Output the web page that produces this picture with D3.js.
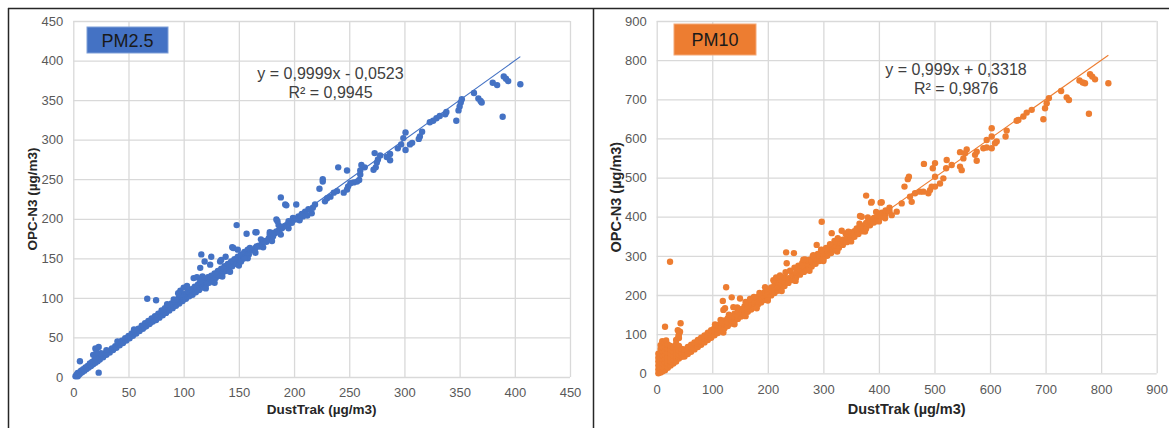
<!DOCTYPE html>
<html>
<head>
<meta charset="utf-8">
<script src="https://cdn.jsdelivr.net/npm/d3@7"></script>
<style>
  html, body { margin: 0; padding: 0; background: #fff; }
  svg { display: block; font-family: Arial, "Liberation Sans", sans-serif; }
</style>
</head>
<body>
<svg id="chart" width="1169" height="428"></svg>
<script>
// ---------- PM2.5 : DustTrak vs OPC-N3 (µg/m3) ----------
const pm25Ticks = [0, 50, 100, 150, 200, 250, 300, 350, 400, 450];
const pm25Fit = { slope: 0.9999, intercept: -0.0523, r2: 0.9945 };

// dense band of paired readings
const pm25Band = [
  [2,1],[3,3],[4,1],[4,5],[5,3],[6,6],[6,4],[7,8],[8,6],[9,10],[10,8],[11,12],[12,10],[13,14],[14,12],
  [15,17],[16,14],[17,19],[18,16],[19,21],[20,18],[21,23],[22,20],[23,25],[24,22],[26,27],[27,25],
  [29,30],[30,28],[32,33],[33,31],[35,36],[36,34],[38,39],[39,37],[41,43],[42,40],[44,46],[45,43],
  [47,49],[48,46],[50,52],[51,49],[53,55],[54,52],[56,58],[57,55],[59,61],[60,58],[62,65],[63,61],
  [65,68],[66,64],[68,71],[69,67],[71,74],[72,70],[74,77],[75,72],[77,80],[78,75],[80,84],[81,78],
  [83,87],[84,81],[86,90],[87,84],[89,93],[90,87],[92,96],[93,90],[95,99],[96,93],[98,103],[99,96],
  [101,105],[102,99],[104,108],[105,102],[107,111],[108,104],[110,114],[111,107],[113,117],[114,110],
  [116,119],[117,113],[119,123],[120,116],[122,126],[123,119],[125,128],[126,122],[128,131],[129,125],
  [131,134],[132,128],[134,137],[135,131],[137,140],[138,134],[140,143],[141,137],[143,146],[144,140],
  [146,149],[147,143],[149,152],[150,146],[152,155],[153,149],[155,158],[156,152],[158,161],[159,155],
  [162,160],[165,163],[168,166],[171,169],[174,172],[177,175],[180,178],[183,182],[186,185],[189,188],
  [192,191],[195,194],[198,197],[201,200],[204,203],[207,206],[210,209],[213,212],
  [64,63],[70,69],[76,75],[82,81],[88,88],[94,95],[100,101],[106,106],[112,112],[118,118],[124,124],
  [130,130],[136,137],[142,142],[148,148],[154,155],
  [20,24],[25,30],[30,34],[40,45],[55,60],[85,92],[91,98],[97,104],
  [120,112],[128,119],[135,127],[142,133],[150,141],[158,150],[165,157],[172,164],[180,172],
  [188,180],[195,188],[205,198],[212,204],[170,174],[178,183],[186,192]
];

// readings scattered away from the band and the sparse upper range
const pm25Spread = [
  [6,20],[20,36],[23,38],[18,28],[21,31],[23,5.5],
  [67,99],[75,97],[97,109],[100,113],[103,115],[95,106],[109,125],[112,126],[117,127],[115,121],
  [115,138],[124,142],[119,146],[116,155],[125,152],[133,146],[134,148],[138,152],[144,164],[145,163],
  [149,161],[145,146],[152,146],[155,150],[148,192],[157,181],[165,183],[169,165],[175,171],[181,178],
  [187,186],[193,192],[199,201],[184,199],[192,218],[202,218],[188,227],[166,165],[160,163],
  [211,205],[208,203],[205,201],[201,199],[198,195],[193,217],[195,197],[190,190],[185,197],[184,184],
  [181,182],[178,180],[172,171],[166,183],
  [239,235],[236,233],[233,228],[230,226],[228,222],[226,250],[226,247],[223,238],[219,218],[217,214],[216,207],
  [264,265],[261,268],[260,261],[260,256],[259,249],[257,247],[254,246],[251,245],[248,261],[249,241],
  [248,237],[245,233],[240,265],
  [287,282],[287,274],[284,278],[278,280],[276,275],[275,271],[273,283],[274,265],[272,262],
  [316,310],[314,304],[313,301],[307,296],[305,294],[301,287],[301,309],[299,302],[297,294],[294,289],
  [338,335],[337,332],[332,330],[329,327],[326,324],[323,322],
  [352,351],[351,347],[350,342],[349,337],[347,324],
  [367,352],[369,349],[370,347],[363,359],
  [380,372],[384,369],[390,380],[392,377],[394,374],[389,329],[405,370]
];

// ---------- PM10 : DustTrak vs OPC-N3 (µg/m3) ----------
const pm10Ticks = [0, 100, 200, 300, 400, 500, 600, 700, 800, 900];
const pm10Fit = { slope: 0.999, intercept: 0.3318, r2: 0.9876 };

// low-concentration cluster
const pm10Cluster = [
  [3,0],[3,10],[3,20],[3,30],[3,40],[3,50],
  [7,2],[7,12],[7,22],[7,32],[7,42],[7,52],[7,62],[7,72],
  [11,5],[11,15],[11,25],[11,35],[11,45],[11,55],[11,65],[11,75],[10,82],
  [15,8],[15,18],[15,28],[15,38],[15,48],[15,58],[15,68],[15,78],[17,84],
  [20,14],[20,24],[20,34],[20,44],[20,54],[20,64],[20,74],
  [25,20],[25,30],[25,40],[25,50],[25,60],[25,70],
  [30,25],[30,35],[30,45],[30,55],[30,65],
  [35,30],[35,40],[35,50],[35,60],[35,75],[35,85],
  [40,38],[40,48],[40,58],[40,70],[40,90],[40,100],[38,110],
  [45,42],[45,52],[45,62],[50,48],[50,58]
];

// dense band of paired readings
const pm10Band = [
  [50,43],[50,52],[50,61],[56,49],[56,58],[56,67],[62,55],[62,64],[62,73],[68,61],[68,70],[68,79],
  [74,67],[74,76],[74,85],[80,73],[80,82],[80,91],[86,79],[86,88],[86,97],[92,85],[92,94],[92,104],
  [98,91],[98,100],[98,110],[104,97],[104,106],[104,116],[110,103],[110,112],[110,123],
  [116,109],[116,118],[116,129],[122,115],[122,124],[122,135],[128,121],[128,130],[128,141],
  [134,127],[134,136],[134,146],[140,133],[140,142],[140,152],[146,139],[146,148],[146,158],
  [152,145],[152,154],[152,164],[158,151],[158,160],[158,171],[164,157],[164,166],[164,177],
  [170,163],[170,172],[170,183],[176,169],[176,178],[176,189],[182,175],[182,184],[182,195],
  [188,181],[188,190],[188,201],[194,187],[194,196],[194,207],[200,193],[200,202],[200,213],
  [206,199],[206,208],[206,219],[212,205],[212,214],[212,226],[218,211],[218,220],[218,232],
  [224,217],[224,226],[224,238],[230,223],[230,232],[230,245],
  [237,231],[237,243],[244,238],[244,252],[251,245],[251,258],[258,252],[258,264],[265,259],[265,272],
  [272,266],[272,279],[279,273],[279,285],[286,280],[286,293],[293,287],[293,300],[300,294],[300,306],
  [307,300],[307,313],[314,307],[314,321],[321,315],[321,327],[328,321],[328,335],[335,328],[335,341],
  [342,335],[342,349],[349,342],[349,356],[356,349],[356,363],[363,356],[363,370],[370,363],[370,377],
  [377,370],[377,384],[384,378],[384,390],[391,385],[391,397],[398,393],[398,404],[405,400],[405,410],
  [412,407],[412,416],[419,414],[419,423],
  [160,182],[175,195],[185,205],[210,238],[215,245],[240,262],[255,275],[262,282],[275,290],
  [290,305],[305,320],[320,338],[340,357],[350,360],[360,370],
  [105,125],[115,136],[130,150],[145,168],[168,190],[195,220],[222,250],[232,258],[248,270],
  [268,288],[282,302],[296,316],[312,330],[326,345],[345,362],[365,382],[380,398],[395,412],
  [120,104],[140,125],[160,146],[180,166],[200,186],[225,210],[250,236],[275,262],[300,287],
  [325,311],[350,337],[375,362],[400,388]
];

// readings scattered away from the band and the sparse upper range
const pm10Spread = [
  [24,285],[15,119],[43,128],[42,106],[39,94],
  [125,220],[135,194],[150,191],[119,185],[123,166],[138,169],[120,162],
  [233,309],[247,307],[267,291],[281,300],[288,328],[297,387],[315,358],[333,364],[297,315],[300,290],
  [234,281],[264,290],
  [366,402],[386,436],[403,436],[377,454],[369,400],[387,438],[405,437],
  [411,396],[423,404],[432,413],[441,434],[446,477],[452,496],[454,502],[456,451],[459,438],[465,460],
  [474,464],[480,464],[489,460],[492,468],[495,477],[501,477],[501,502],[510,485],[516,498],[497,524],
  [501,537],[521,524],[522,545],[531,532],[481,535],
  [546,528],[549,519],[546,565],[552,549],[555,562],[558,572],[573,558],[576,566],[576,543],
  [588,575],[594,577],[594,596],[603,575],[603,605],[603,626],[609,588],[612,592],[628,605],[630,620],
  [648,645],[651,647],[660,656],[666,666],[675,673],[696,649],
  [699,677],[702,690],[706,703],[728,721],[738,705],[742,698],
  [761,748],[767,743],[771,741],[778,663],[780,764],[784,758],[789,751],[813,741]
];

// ---------- drawing ----------
const svg = d3.select("#chart");

// panel frame
svg.append("line").attr("x1", 8).attr("x2", 1169).attr("y1", 8.5).attr("y2", 8.5)
  .attr("stroke", "#262626").attr("stroke-width", 1.5);
svg.append("line").attr("x1", 8.5).attr("x2", 8.5).attr("y1", 8).attr("y2", 428)
  .attr("stroke", "#262626").attr("stroke-width", 1.5);
svg.append("line").attr("x1", 593.5).attr("x2", 593.5).attr("y1", 8).attr("y2", 428)
  .attr("stroke", "#262626").attr("stroke-width", 1.5);

const commaNum = v => String(v).replace(".", ",");

function drawPanel(cfg) {
  const { box, ticks, points, fit, color } = cfg;
  const x = d3.scaleLinear().domain([ticks[0], ticks[ticks.length - 1]]).range([box.left, box.right]);
  const y = d3.scaleLinear().domain([ticks[0], ticks[ticks.length - 1]]).range([box.bottom, box.top]);
  const g = svg.append("g");

  // grid + tick labels
  const gx = g.append("g").attr("transform", `translate(0,${box.bottom})`)
    .call(d3.axisBottom(x).tickValues(ticks).tickSize(-(box.bottom - box.top)).tickPadding(11));
  const gy = g.append("g").attr("transform", `translate(${box.left},0)`)
    .call(d3.axisLeft(y).tickValues(ticks).tickSize(-(box.right - box.left)).tickPadding(10));
  [gx, gy].forEach(a => {
    a.select(".domain").remove();
    a.selectAll(".tick line").attr("stroke", "#d9d9d9").attr("stroke-width", 1.3);
    a.selectAll(".tick text").attr("fill", "#595959").style("font-size", "13px")
      .style("font-family", "Arial, 'Liberation Sans', sans-serif");
  });

  // axis titles
  g.append("text")
    .attr("x", (box.left + box.right) / 2).attr("y", 414)
    .attr("text-anchor", "middle").attr("fill", "#262626")
    .style("font-size", cfg.titleSize + "px").style("font-weight", "bold")
    .text("DustTrak (µg/m3)");
  g.append("text")
    .attr("transform", `translate(${cfg.yTitleX},${(box.top + box.bottom) / 2}) rotate(-90)`)
    .attr("text-anchor", "middle").attr("dominant-baseline", "central").attr("fill", "#262626")
    .style("font-size", cfg.titleSize + "px").style("font-weight", "bold")
    .text("OPC-N3 (µg/m3)");

  // markers
  g.append("g").selectAll("circle").data(points).join("circle")
    .attr("cx", d => x(d[0])).attr("cy", d => y(d[1])).attr("r", 3.2)
    .attr("fill", color);

  // linear trendline over the measured range
  const xs = d3.extent(points, d => d[0]);
  const line = d3.line().x(d => x(d)).y(d => y(fit.slope * d + fit.intercept));
  g.append("path").datum(xs).attr("d", line)
    .attr("fill", "none").attr("stroke", color).attr("stroke-width", 1.1);

  // equation and R²
  const sign = fit.intercept < 0 ? "-" : "+";
  g.append("text").attr("x", cfg.eq.x).attr("y", cfg.eq.y)
    .attr("text-anchor", "middle").attr("fill", "#404040").style("font-size", "16px")
    .text(`y = ${commaNum(fit.slope)}x ${sign} ${commaNum(Math.abs(fit.intercept))}`);
  g.append("text").attr("x", cfg.eq.x).attr("y", cfg.eq.y + 18.5)
    .attr("text-anchor", "middle").attr("fill", "#404040").style("font-size", "16px")
    .text(`R² = ${commaNum(fit.r2)}`);

  // series tag
  g.append("rect").attr("x", cfg.tag.x).attr("y", cfg.tag.y)
    .attr("width", cfg.tag.w).attr("height", cfg.tag.h)
    .attr("fill", color).attr("stroke", cfg.tag.stroke).attr("stroke-width", 1);
  g.append("text").attr("x", cfg.tag.x + cfg.tag.w / 2).attr("y", cfg.tag.baseline)
    .attr("text-anchor", "middle").attr("fill", "#1a1a1a").style("font-size", "18px")
    .text(cfg.name);
}

drawPanel({
  name: "PM2.5",
  box: { left: 73.3, right: 570, top: 21, bottom: 377 },
  ticks: pm25Ticks,
  points: pm25Band.concat(pm25Spread),
  fit: pm25Fit,
  color: "#4472c4",
  titleSize: 13.5,
  yTitleX: 32,
  eq: { x: 330.5, y: 79 },
  tag: { x: 87, y: 27, w: 81, h: 26, baseline: 46.5, stroke: "#7f9fd8" }
});

drawPanel({
  name: "PM10",
  box: { left: 656.7, right: 1156.7, top: 21, bottom: 373.3 },
  ticks: pm10Ticks,
  points: pm10Cluster.concat(pm10Band, pm10Spread),
  fit: pm10Fit,
  color: "#ed7d31",
  titleSize: 14.5,
  yTitleX: 616,
  eq: { x: 956, y: 75 },
  tag: { x: 674, y: 24, w: 82, h: 31, baseline: 45.5, stroke: "#f4a877" }
});
</script>
</body>
</html>
